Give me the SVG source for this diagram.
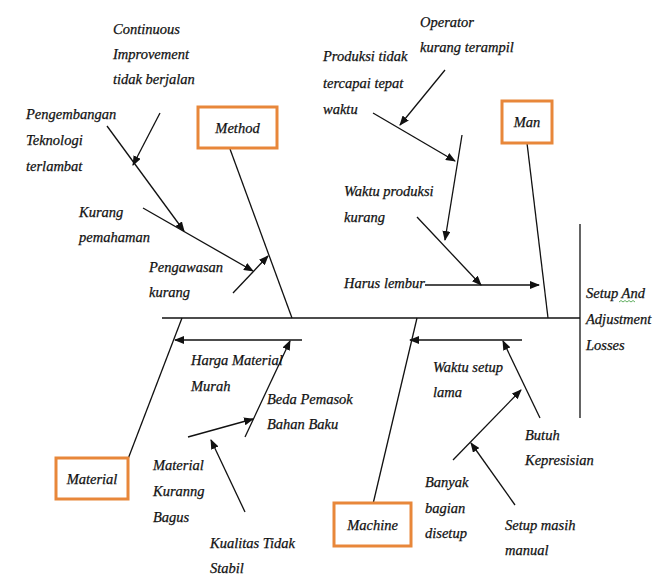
<svg xmlns="http://www.w3.org/2000/svg" width="665" height="575" viewBox="0 0 665 575">
<defs>
<marker id="ah" markerUnits="userSpaceOnUse" markerWidth="10" markerHeight="8" refX="9" refY="4" orient="auto">
<path d="M0,0 L10,4 L0,8 z" fill="#111"/>
</marker>
<style>
text{font-family:"Liberation Serif","DejaVu Serif",serif;font-style:italic;font-size:14.5px;fill:#111;stroke:#111;stroke-width:0.25}
.box{fill:#fff;stroke:#E8873A;stroke-width:3}
.ln{stroke:#111;stroke-width:1.3;fill:none}
.ar{stroke:#111;stroke-width:1.3;fill:none;marker-end:url(#ah)}
.c{text-anchor:middle}
</style>
</defs>
<rect width="665" height="575" fill="#fff"/>
<g id="connectors">
<line class="ln" x1="162" y1="318" x2="580" y2="318"/>
<line class="ln" x1="580" y1="224" x2="580" y2="418"/>
<line class="ln" x1="230" y1="149" x2="292" y2="318"/>
<line class="ln" x1="527" y1="143" x2="548" y2="318"/>
<line class="ln" x1="128" y1="459" x2="182" y2="318"/>
<line class="ln" x1="373" y1="504" x2="417" y2="318"/>
<line class="ar" x1="160" y1="113" x2="133" y2="165"/>
<line class="ar" x1="107" y1="126" x2="184" y2="231"/>
<line class="ar" x1="143" y1="208" x2="253" y2="271"/>
<line class="ar" x1="233" y1="293" x2="268" y2="256"/>
<line class="ar" x1="445" y1="70" x2="400" y2="125"/>
<line class="ar" x1="373" y1="113" x2="455" y2="161"/>
<line class="ar" x1="462" y1="135" x2="445" y2="240"/>
<line class="ar" x1="417" y1="217" x2="481" y2="285"/>
<line class="ar" x1="425" y1="285" x2="539" y2="285"/>
<line class="ar" x1="302" y1="340" x2="175" y2="340"/>
<line class="ar" x1="245" y1="437" x2="290" y2="341"/>
<line class="ar" x1="188" y1="437" x2="253" y2="419"/>
<line class="ar" x1="245" y1="512" x2="211" y2="440"/>
<line class="ar" x1="522" y1="340" x2="410" y2="340"/>
<line class="ar" x1="540" y1="418" x2="503" y2="341"/>
<line class="ar" x1="453" y1="460" x2="521" y2="390"/>
<line class="ar" x1="515" y1="505" x2="471" y2="443"/>
</g>
<g id="method"><rect class="box" x="198" y="107" width="79" height="41"/><text class="c" x="237.5" y="133">Method</text></g>
<g id="man"><rect class="box" x="502" y="101" width="50" height="42"/><text class="c" x="527" y="127">Man</text></g>
<g id="material"><rect class="box" x="56" y="458" width="72" height="41"/><text class="c" x="92" y="484">Material</text></g>
<g id="machine"><rect class="box" x="334" y="503" width="77" height="43"/><text class="c" x="372.5" y="530">Machine</text></g>
<g id="effect"><text x="586" y="298">Setup And</text><text x="586" y="324">Adjustment</text><text x="586" y="350">Losses</text>
<path d="M619,302 l2,-1.5 l2,1.5 l2,-1.5 l2,1.5 l2,-1.5 l2,1.5 l2,-1.5 l2,1.5" fill="none" stroke="#3a9a3a" stroke-width="0.8"/></g>
<g id="continuous"><text x="113" y="34">Continuous</text><text x="113" y="59">Improvement</text><text x="113" y="84">tidak berjalan</text></g>
<g id="pengembangan"><text x="26" y="119">Pengembangan</text><text x="26" y="145">Teknologi</text><text x="26" y="171">terlambat</text></g>
<g id="kurang-pemahaman"><text x="79" y="217">Kurang</text><text x="79" y="242">pemahaman</text></g>
<g id="pengawasan"><text x="149" y="272">Pengawasan</text><text x="149" y="297">kurang</text></g>
<g id="operator"><text x="420" y="27">Operator</text><text x="420" y="52">kurang terampil</text></g>
<g id="produksi"><text x="323" y="61">Produksi tidak</text><text x="323" y="88">tercapai tepat</text><text x="323" y="114">waktu</text></g>
<g id="waktu-produksi"><text x="344" y="196">Waktu produksi</text><text x="344" y="222">kurang</text></g>
<g id="harus-lembur"><text x="344" y="288">Harus lembur</text></g>
<g id="harga"><text x="191" y="365">Harga Material</text><text x="191" y="391">Murah</text></g>
<g id="beda"><text x="267" y="404">Beda Pemasok</text><text x="267" y="429">Bahan Baku</text></g>
<g id="material-kurang"><text x="153" y="470">Material</text><text x="153" y="496">Kuranng</text><text x="153" y="522">Bagus</text></g>
<g id="kualitas"><text x="210" y="548">Kualitas Tidak</text><text x="210" y="573">Stabil</text></g>
<g id="waktu-setup"><text x="433" y="372">Waktu setup</text><text x="433" y="397">lama</text></g>
<g id="butuh"><text x="525" y="440">Butuh</text><text x="525" y="465">Kepresisian</text></g>
<g id="banyak"><text x="425" y="487">Banyak</text><text x="425" y="513">bagian</text><text x="425" y="538">disetup</text></g>
<g id="setup-manual"><text x="505" y="530">Setup masih</text><text x="505" y="555">manual</text></g>
</svg>
